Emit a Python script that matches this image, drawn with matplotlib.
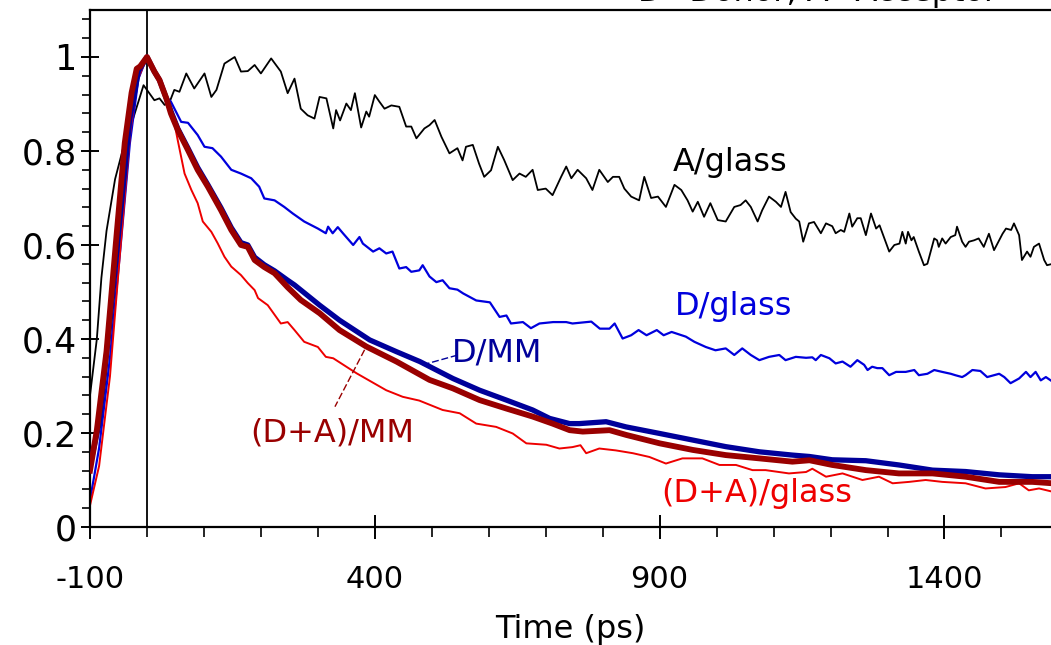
import matplotlib
matplotlib.use("Agg")
import matplotlib.pyplot as plt
from matplotlib.ticker import MultipleLocator, FixedLocator
import numpy as np

plt.rcParams['font.family'] = ['DejaVu Sans']
plt.rcParams['axes.unicode_minus'] = False

# A/glass (black, thin)
t_a_glass = [-100, -88, -80, -71, -56, -42, -24, -6, 13, 22, 31, 40, 48, 57, 69, 83, 101, 113, 122, 136,
             154, 165, 177, 189, 200, 218, 235, 247, 259, 270, 282, 294, 303, 315, 327, 332, 339, 350, 358, 365,
             376, 385, 390, 400, 408, 417, 429, 443, 455, 464, 473, 487, 496, 505, 517, 531, 545, 554, 560, 572,
             583, 592, 604, 616, 627, 642, 654, 665, 677, 686, 700, 712, 727, 736, 745, 756, 771, 782, 794, 809,
             818, 829, 838, 850, 864, 873, 885, 897, 911, 926, 938, 949, 958, 967, 978, 989, 1002, 1016, 1031, 1042,
             1051, 1060, 1072, 1080, 1092, 1104, 1113, 1121, 1130, 1139, 1145, 1152, 1162, 1171, 1183, 1192, 1203,
             1209, 1218, 1224, 1233, 1238, 1247, 1253, 1262, 1271, 1280, 1286, 1303, 1312, 1321, 1326, 1332, 1336,
             1342, 1346, 1355, 1364, 1370, 1382, 1387, 1390, 1396, 1402, 1411, 1419, 1422, 1431, 1437, 1443, 1452,
             1460, 1469, 1478, 1487, 1496, 1502, 1508, 1517, 1522, 1531, 1536, 1545, 1551, 1557, 1566, 1575, 1580, 1590]
a_glass = [0.28, 0.40, 0.53, 0.63, 0.74, 0.805, 0.87, 0.94, 0.908, 0.912, 0.898, 0.905, 0.93, 0.926, 0.965, 0.933,
           0.965, 0.915, 0.93, 0.986, 1.0, 0.969, 0.97, 0.983, 0.965, 0.997, 0.969, 0.923, 0.954, 0.89, 0.876, 0.869,
           0.915, 0.912, 0.848, 0.887, 0.865, 0.901, 0.887, 0.923, 0.85, 0.884, 0.873, 0.919, 0.905, 0.89, 0.897, 0.894,
           0.852, 0.852, 0.827, 0.848, 0.855, 0.866, 0.83, 0.795, 0.806, 0.78, 0.809, 0.813, 0.773, 0.745, 0.759, 0.809,
           0.781, 0.738, 0.752, 0.745, 0.76, 0.717, 0.72, 0.706, 0.745, 0.767, 0.742, 0.76, 0.742, 0.717, 0.76, 0.734,
           0.745, 0.745, 0.72, 0.703, 0.695, 0.745, 0.70, 0.703, 0.681, 0.728, 0.717, 0.695, 0.671, 0.692, 0.66, 0.689,
           0.653, 0.65, 0.681, 0.685, 0.695, 0.681, 0.65, 0.674, 0.703, 0.692, 0.681, 0.713, 0.67, 0.656, 0.65, 0.607,
           0.646, 0.649, 0.625, 0.646, 0.64, 0.625, 0.632, 0.628, 0.667, 0.639, 0.657, 0.657, 0.621, 0.667, 0.635, 0.642,
           0.586, 0.60, 0.603, 0.628, 0.603, 0.628, 0.61, 0.617, 0.586, 0.557, 0.56, 0.614, 0.61, 0.596, 0.614, 0.603,
           0.617, 0.621, 0.639, 0.607, 0.596, 0.607, 0.61, 0.614, 0.596, 0.624, 0.589, 0.61, 0.624, 0.635, 0.632, 0.646,
           0.621, 0.568, 0.586, 0.575, 0.596, 0.603, 0.568, 0.557, 0.56]

# D/glass (blue, thin)
t_d_glass = [-100, -84, -65, -47, -30, -15, 0, 13, 22, 34, 42, 60, 72, 89, 101, 115, 130, 148, 165, 183, 197, 206,
             224, 241, 256, 276, 300, 314, 318, 326, 335, 344, 362, 373, 379, 397, 408, 420, 431, 443, 455, 464, 478,
             484, 496, 508, 519, 531, 545, 555, 578, 602, 619, 631, 639, 660, 674, 689, 713, 736, 747, 780, 795, 812,
             821, 835, 850, 863, 877, 895, 907, 921, 946, 961, 981, 998, 1016, 1031, 1045, 1060, 1075, 1092, 1110,
             1121, 1139, 1157, 1168, 1174, 1183, 1198, 1209, 1221, 1235, 1247, 1259, 1265, 1273, 1282, 1291, 1303,
             1315, 1332, 1347, 1355, 1370, 1382, 1396, 1411, 1419, 1431, 1437, 1449, 1463, 1475, 1496, 1505, 1516,
             1531, 1543, 1551, 1560, 1569, 1578, 1590]
d_glass = [0.057, 0.168, 0.359, 0.588, 0.817, 0.954, 1.0, 0.969, 0.951, 0.915, 0.905, 0.862, 0.86, 0.834, 0.809,
           0.806, 0.788, 0.76, 0.752, 0.742, 0.724, 0.699, 0.695, 0.681, 0.667, 0.65, 0.635, 0.625, 0.639, 0.625, 0.638,
           0.625, 0.60, 0.617, 0.603, 0.586, 0.593, 0.582, 0.586, 0.55, 0.553, 0.543, 0.546, 0.557, 0.533, 0.521, 0.525,
           0.508, 0.505, 0.497, 0.482, 0.478, 0.447, 0.45, 0.433, 0.436, 0.423, 0.433, 0.436, 0.436, 0.433, 0.437,
           0.422, 0.422, 0.433, 0.401, 0.408, 0.419, 0.408, 0.419, 0.408, 0.415, 0.405, 0.394, 0.383, 0.376, 0.38,
           0.366, 0.38, 0.366, 0.355, 0.362, 0.366, 0.355, 0.362, 0.36, 0.361, 0.355, 0.366, 0.359, 0.348, 0.352, 0.341,
           0.355, 0.345, 0.334, 0.341, 0.338, 0.338, 0.323, 0.33, 0.33, 0.334, 0.323, 0.326, 0.334, 0.33, 0.326, 0.323,
           0.319, 0.323, 0.334, 0.332, 0.319, 0.326, 0.319, 0.306, 0.316, 0.33, 0.319, 0.33, 0.312, 0.319, 0.309]

# (D+A)/glass (red, thin)
t_da_glass = [-100, -84, -65, -47, -30, -18, 0, 13, 22, 30, 37, 46, 54, 66, 78, 89, 98, 113, 124, 136, 148, 165, 177,
              189, 195, 212, 235, 247, 259, 276, 300, 314, 327, 368, 420, 449, 478, 519, 549, 578, 613, 642, 666, 701,
              724, 747, 761, 771, 794, 823, 853, 882, 911, 940, 975, 1005, 1034, 1063, 1086, 1127, 1157, 1168, 1192,
              1221, 1256, 1285, 1309, 1338, 1367, 1396, 1437, 1472, 1507, 1531, 1548, 1566, 1590]
da_glass = [0.046, 0.13, 0.32, 0.588, 0.832, 0.947, 1.0, 0.969, 0.945, 0.925, 0.908, 0.873, 0.823, 0.752, 0.717,
            0.689, 0.65, 0.628, 0.604, 0.575, 0.554, 0.536, 0.519, 0.504, 0.487, 0.472, 0.433, 0.436, 0.419, 0.394,
            0.383, 0.362, 0.359, 0.327, 0.291, 0.277, 0.269, 0.249, 0.242, 0.22, 0.213, 0.199, 0.178, 0.175, 0.167,
            0.17, 0.174, 0.157, 0.167, 0.163, 0.157, 0.149, 0.135, 0.146, 0.146, 0.132, 0.132, 0.121, 0.121, 0.114,
            0.117, 0.124, 0.107, 0.114, 0.10, 0.107, 0.093, 0.096, 0.10, 0.096, 0.093, 0.082, 0.085, 0.093, 0.078,
            0.082, 0.075]

# D/MM (navy, thick)
t_d_mm = [-100, -84, -65, -47, -30, -15, 0, 13, 22, 34, 42, 54, 72, 89, 107, 130, 148, 165, 177, 189, 206, 224, 247,
          259, 303, 338, 391, 438, 479, 537, 584, 631, 677, 707, 742, 759, 806, 841, 900, 958, 1016, 1075, 1133, 1163,
          1203, 1262, 1320, 1379, 1437, 1496, 1554, 1590]
d_mm = [0.13, 0.22, 0.435, 0.66, 0.87, 0.97, 1.0, 0.969, 0.951, 0.912, 0.885, 0.848, 0.806, 0.765, 0.728, 0.679,
        0.637, 0.605, 0.60, 0.574, 0.558, 0.545, 0.525, 0.515, 0.472, 0.44, 0.398, 0.373, 0.352, 0.316, 0.291, 0.27,
        0.249, 0.231, 0.22, 0.22, 0.224, 0.213, 0.199, 0.185, 0.171, 0.16, 0.153, 0.15, 0.143, 0.141, 0.132, 0.121,
        0.118, 0.111, 0.107, 0.107]

# (D+A)/MM (dark red, thick)
t_da_mm = [-100, -88, -71, -53, -39, -27, -18, -12, 0, 13, 22, 34, 42, 54, 72, 89, 107, 130, 148, 165, 177, 189, 206,
           224, 247, 270, 303, 338, 385, 438, 496, 537, 584, 631, 677, 712, 742, 765, 812, 841, 900, 958, 1016, 1075,
           1133, 1163, 1203, 1262, 1320, 1379, 1437, 1496, 1554, 1590]
da_mm = [0.12, 0.206, 0.374, 0.626, 0.817, 0.924, 0.975, 0.98, 1.0, 0.969, 0.951, 0.912, 0.88, 0.845, 0.802, 0.76,
         0.724, 0.674, 0.632, 0.60, 0.596, 0.568, 0.553, 0.54, 0.51, 0.483, 0.455, 0.419, 0.384, 0.352, 0.313, 0.295,
         0.27, 0.252, 0.235, 0.22, 0.206, 0.203, 0.206, 0.196, 0.178, 0.164, 0.153, 0.146, 0.139, 0.142, 0.132, 0.121,
         0.114, 0.114, 0.107, 0.096, 0.096, 0.093]

C_BLUE = '#0000dd'
C_NAVY = '#00009a'
C_DRED = '#990000'
C_RED = '#ee0000'

fig = plt.figure(figsize=(10.51, 6.45), dpi=100)
ax = fig.add_axes([90/1051, 118/645, 961/1051, 517/645])

ax.axvline(0, color='k', lw=1.3, zorder=1)
ax.plot(t_a_glass, a_glass, color='k', lw=1.3, zorder=2)
ax.plot(t_d_glass, d_glass, color=C_BLUE, lw=1.6, zorder=2)
ax.plot(t_da_glass, da_glass, color=C_RED, lw=1.4, zorder=2)
ax.plot(t_d_mm, d_mm, color=C_NAVY, lw=3.8, zorder=3)
ax.plot(t_da_mm, da_mm, color=C_DRED, lw=4.2, zorder=4)

fs = 23
ax.text(923, 0.758, 'A/glass', color='k', fontsize=fs, va='baseline')
ax.text(926, 0.451, 'D/glass', color=C_BLUE, fontsize=fs, va='baseline')
ax.text(536, 0.352, 'D/MM', color=C_NAVY, fontsize=fs, va='baseline')
ax.text(182, 0.182, '(D+A)/MM', color=C_DRED, fontsize=fs, va='baseline')
ax.text(902, 0.054, '(D+A)/glass', color=C_RED, fontsize=fs, va='baseline')
# leader lines from labels to the MM curves
ax.plot([484, 546], [0.345, 0.366], color=C_NAVY, lw=1.0, ls=(0, (5, 2)), zorder=5)
ax.plot([382, 330], [0.377, 0.256], color=C_DRED, lw=1.0, ls=(0, (5, 2)), zorder=5)

# note at the top, mostly cropped by the top edge
fig.text(818/1051, 1 - 1/645, 'D=Donor, A=Acceptor', fontsize=fs, ha='center', va='baseline')

ax.set_xlim(-100, 1587)
ax.set_ylim(0, 1.1)
ax.xaxis.set_major_locator(FixedLocator([-100, 400, 900, 1400]))
ax.xaxis.set_minor_locator(MultipleLocator(100))
ax.yaxis.set_major_locator(FixedLocator([0, 0.2, 0.4, 0.6, 0.8, 1.0]))
ax.yaxis.set_minor_locator(MultipleLocator(0.04))
ax.set_yticklabels(['0', '0.2', '0.4', '0.6', '0.8', '1'])
ax.tick_params(axis='x', which='major', direction='inout', length=17, width=1.4, labelsize=22, pad=19)
ax.tick_params(axis='x', which='minor', direction='out', length=7, width=1.2)
ax.tick_params(axis='y', which='major', direction='inout', length=13, width=1.4, labelsize=25, pad=3)
ax.tick_params(axis='y', which='minor', direction='out', length=6, width=1.2)
ax.spines['right'].set_visible(False)
for s in ['left', 'bottom', 'top']:
    ax.spines[s].set_linewidth(1.6)
ax.set_xlabel('Time (ps)', fontsize=23, labelpad=14)

fig.savefig('out.png', dpi=100)
